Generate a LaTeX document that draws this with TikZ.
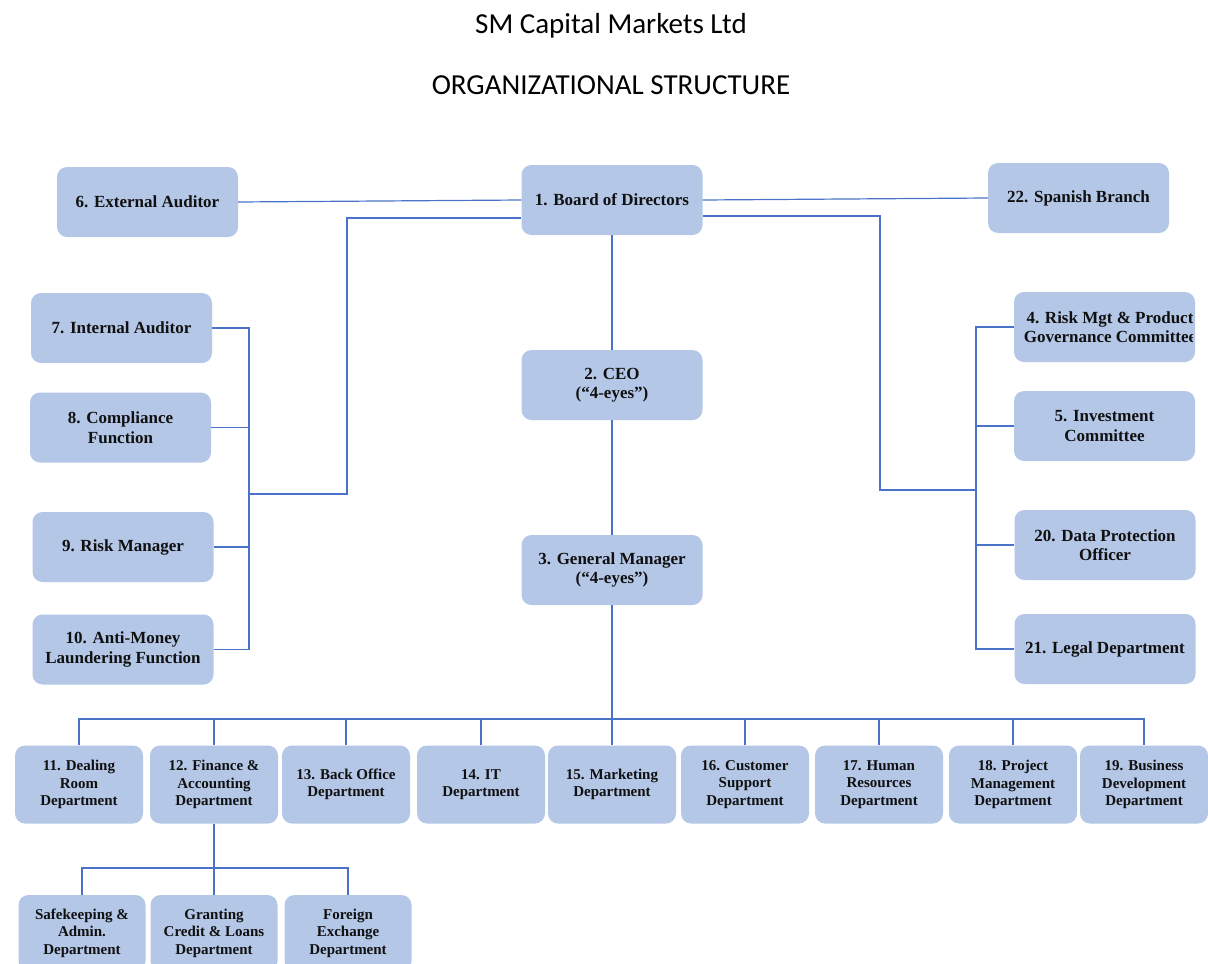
\documentclass[tikz,border=0pt]{standalone}
\usepackage{fontspec}
\setmainfont{Liberation Serif}
\newfontfamily\titlefont{Carlito}
\definecolor{boxfill}{HTML}{B4C7E7}
\definecolor{linec}{HTML}{4A72C8}
\definecolor{txt}{HTML}{101010}
\begin{document}
\begin{tikzpicture}[x=1pt,y=-1pt,
  box/.style={fill=boxfill, rounded corners=10pt, minimum width=181pt, minimum height=70pt,
    align=center, text=txt, font=\bfseries\fontsize{17}{19.5}\selectfont, inner sep=0pt},
  dept/.style={box, minimum width=128pt, minimum height=78pt, font=\bfseries\fontsize{15}{17.5}\selectfont},
  subdept/.style={dept, minimum width=127pt, minimum height=76pt},
  conn/.style={draw=linec, line width=1.2pt},
  ttl/.style={font=\titlefont\fontsize{29}{34}\selectfont, anchor=base, inner sep=0pt}]
\useasboundingbox[fill=white] (0,0) rectangle (1208,964);

% titles
\node[ttl] (t1) at (611,33) {SM Capital Markets Ltd};
\node[ttl] (t2) at (611,94) {ORGANIZATIONAL STRUCTURE};

% top row
\node[box] (bod) at (612,200) {1. Board of Directors};
\node[box] (ext) at (147.5,202) {6. External Auditor};
\node[box] (spa) at (1078.5,198) {22. Spanish Branch};

% centre column
\node[box] (ceo) at (612,385) {2. CEO\\(“4-eyes”)};
\node[box] (gm) at (612,570) {3. General Manager\\(“4-eyes”)};

% left column
\node[box] (ia) at (121.5,328) {7. Internal Auditor};
\node[box] (cf) at (120.5,427.5) {8. Compliance\\Function};
\node[box] (rmg) at (123,547) {9. Risk Manager};
\node[box] (aml) at (123,649.5) {10. Anti-Money\\Laundering Function};

% right column
\node[box] (rmc) at (1104.5,327) {};
\begin{scope}
  \clip (rmc.south west) rectangle ([xshift=-3pt]rmc.north east);
  \node[align=center, text=txt, font=\bfseries\fontsize{17}{19.5}\selectfont, inner sep=0pt] (rmctext) at (1110,327) {4. Risk Mgt \& Product\\Governance Committee};
\end{scope}
\node[box] (inv) at (1104.5,426) {5. Investment\\Committee};
\node[box] (dpo) at (1105,545) {20. Data Protection\\Officer};
\node[box] (leg) at (1105,649) {21. Legal Department};

% departments row
\node[dept] (d11) at (79,784.5) {11. Dealing\\Room\\Department};
\node[dept] (d12) at (214,784.5) {12. Finance \&\\Accounting\\Department};
\node[dept] (d13) at (346,784.5) {13. Back Office\\Department};
\node[dept] (d14) at (481,784.5) {14. IT\\Department};
\node[dept] (d15) at (612,784.5) {15. Marketing\\Department};
\node[dept] (d16) at (745,784.5) {16. Customer\\Support\\Department};
\node[dept] (d17) at (879,784.5) {17. Human\\Resources\\Department};
\node[dept] (d18) at (1013,784.5) {18. Project\\Management\\Department};
\node[dept] (d19) at (1144,784.5) {19. Business\\Development\\Department};

% sub-departments
\node[subdept] (s1) at (82,933) {Safekeeping \&\\Admin.\\Department};
\node[subdept] (s2) at (214,933) {Granting\\Credit \& Loans\\Department};
\node[subdept] (s3) at (348,933) {Foreign\\Exchange\\Department};

% bus coordinates
\coordinate (lbus) at (249,494);
\coordinate (lturn) at (347,494);
\coordinate (rbus) at (976,490);
\coordinate (rturn) at (880,490);
\coordinate (bbus) at (612,719);
\coordinate (sbus) at (214,868);

% connectors
\draw[conn] (ext.east) -- (bod.west);
\draw[conn] (bod.east) -- (spa.west);
\draw[conn] (bod.south) -- (ceo.north);
\draw[conn] (ceo.south) -- (gm.north);
\draw[conn] (gm.south) -- (d15.north);

% board to left group
\draw[conn] ([yshift=-18pt]bod.west) -| (lturn) -- (lbus);
\draw[conn] (ia.east) -| (aml.east -| lbus) -- (aml.east);
\draw[conn] (cf.east) -- (cf.east -| lbus);
\draw[conn] (rmg.east) -- (rmg.east -| lbus);

% board to right group
\draw[conn] ([yshift=-16pt]bod.east) -| (rturn) -- (rbus);
\draw[conn] (rmc.west) -| (leg.west -| rbus) -- (leg.west);
\draw[conn] (inv.west) -- (inv.west -| rbus);
\draw[conn] (dpo.west) -- (dpo.west -| rbus);

% departments bus
\draw[conn] (d11.north) |- (bbus -| d19.north) -- (d19.north);
\foreach \d in {d12,d13,d14,d16,d17,d18}
  \draw[conn] (\d.north) -- (\d.north |- bbus);

% sub-department bus
\draw[conn] (d12.south) -- (s2.north);
\draw[conn] (s1.north) |- (sbus -| s3.north) -- (s3.north);
\end{tikzpicture}
\end{document}
